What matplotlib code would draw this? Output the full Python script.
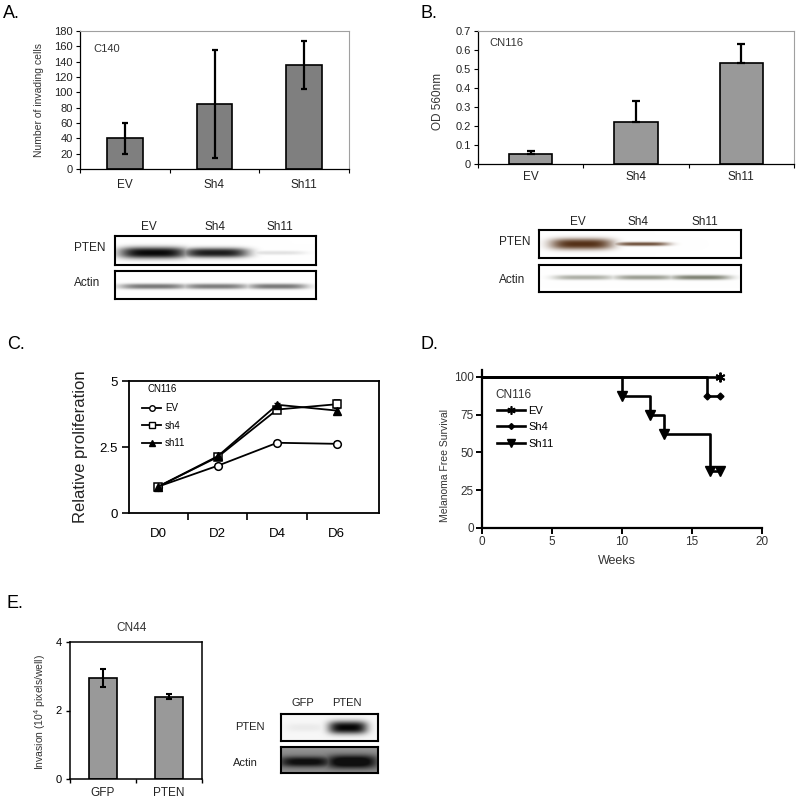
import numpy as np
import matplotlib
matplotlib.use('Agg')
import matplotlib.pyplot as plt
from matplotlib.lines import Line2D

plt.rcParams['font.family'] = ['Liberation Sans', 'DejaVu Sans']
plt.rcParams['mathtext.fontset'] = 'custom'
plt.rcParams['mathtext.rm'] = 'Liberation Sans'

# ---------------- data ----------------
a_groups = ['EV', 'Sh4', 'Sh11']
a_values = [40, 85, 136]
a_err = [20, 70, 31]

b_groups = ['EV', 'Sh4', 'Sh11']
b_values = [0.055, 0.22, 0.53]
b_err_up = [0.015, 0.11, 0.10]

c_days = ['D0', 'D2', 'D4', 'D6']
c_ev = [1.0, 1.79, 2.66, 2.62]
c_ev_err = [0.05, 0.06, 0.07, 0.06]
c_sh4 = [1.0, 2.12, 3.92, 4.12]
c_sh4_err = [0.06, 0.08, 0.10, 0.16]
c_sh11 = [1.0, 2.15, 4.10, 3.88]
c_sh11_err = [0.05, 0.07, 0.08, 0.08]

d_ev_weeks = [0, 17]
d_ev_surv = [100, 100]
d_sh4_weeks = [0, 16.1, 17]
d_sh4_surv = [100, 87.5, 87.5]
d_sh11_weeks = [0, 10, 12, 13, 16.3, 17]
d_sh11_surv = [100, 87.5, 75, 62.5, 37.5, 37.5]

e_groups = ['GFP', 'PTEN']
e_values = [2.95, 2.40]
e_err = [0.25, 0.07]

# blot band intensities (0..1) per lane
blotA_pten = [1.0, 0.92, 0.12]
blotA_actin = [0.62, 0.6, 0.62]
blotB_pten = [1.0, 0.85, 0.0]
blotB_actin = [0.45, 0.55, 0.70]
blotE_pten = [0.05, 1.0]
blotE_actin = [0.8, 0.95]

# ---------------- figure ----------------
W, H = 800, 801
fig = plt.figure(figsize=(8, 8.01), dpi=100)


def add_ax(x0, y0, x1, y1):
    return fig.add_axes([x0 / W, 1 - y1 / H, (x1 - x0) / W, (y1 - y0) / H])


def txt(x, y, s, **kw):
    kw.setdefault('ha', 'center')
    kw.setdefault('va', 'center')
    fig.text(x / W, 1 - y / H, s, **kw)


def excel_axes(ax, n, labels):
    ax.set_xlim(-0.5, n - 0.5)
    ax.set_xticks(np.arange(n + 1) - 0.5)
    ax.set_xticklabels([])
    ax.set_xticks(np.arange(n), minor=True)
    ax.set_xticklabels(labels, minor=True, fontsize=8.5, color='#222222')
    ax.tick_params(axis='x', which='minor', length=0, pad=7)
    ax.tick_params(axis='x', which='major', direction='out', length=3, width=0.8)
    ax.tick_params(axis='y', direction='out', length=3, width=0.8, labelsize=8, pad=2,
                   labelcolor='#222222')
    for s in ['top', 'right']:
        ax.spines[s].set_color('#a0a0a0')
        ax.spines[s].set_linewidth(0.8)
    for s in ['left', 'bottom']:
        ax.spines[s].set_color('black')
        ax.spines[s].set_linewidth(0.9)


def blot(box, lanes, intens, lane_w, band_y, band_h, color, bg, bg_dark=0.0):
    ax = add_ax(*box)
    ny, nx = 80, 300
    xx = np.linspace(0, 1, nx)[None, :]
    yy = np.linspace(0, 1, ny)[:, None]
    a = np.zeros((ny, nx))
    if np.isscalar(band_h):
        band_h = [band_h] * len(lanes)
    if np.isscalar(lane_w):
        lane_w = [lane_w] * len(lanes)
    for c, inten, bh, lw in zip(lanes, intens, band_h, lane_w):
        px = np.exp(-np.abs((xx - c) / (lw / 2)) ** 4)
        py = np.exp(-np.abs((yy - band_y) / bh) ** 2.5)
        a = np.maximum(a, inten * px * py)
    a = np.clip(a + bg_dark * np.exp(-((yy - band_y) / 0.45) ** 2) * np.ones_like(xx), 0, 1)
    color = np.array(color)
    bgc = np.array(bg)
    img = bgc[None, None, :] * (1 - a[..., None]) + color[None, None, :] * a[..., None]
    ax.imshow(np.clip(img, 0, 1), extent=[0, 1, 0, 1], aspect='auto', origin='upper',
              interpolation='bilinear')
    ax.set_xticks([])
    ax.set_yticks([])
    for s in ax.spines.values():
        s.set_linewidth(1.5)
        s.set_color('black')
    return ax


# ---------------- Panel A ----------------
axA = add_ax(80, 31, 349, 169)
xa = np.arange(len(a_groups))
axA.bar(xa, a_values, width=0.4, color='#7f7f7f', edgecolor='black', linewidth=1.2, zorder=2)
axA.errorbar(xa, a_values, yerr=a_err, fmt='none', ecolor='black', elinewidth=1.6,
             capsize=2.3, capthick=1.6, zorder=3)
excel_axes(axA, 3, a_groups)
axA.set_ylim(0, 180)
axA.set_yticks(np.arange(0, 181, 20))
txt(93, 49, 'C140', ha='left', fontsize=8, color='#333333')
txt(39, 100, 'Number of invading cells', rotation=90, fontsize=7.5, color='#333333')
txt(3, 13, 'A.', ha='left', fontsize=13)

# blot A
blot((115, 236, 316, 265), [0.19, 0.50, 0.80], blotA_pten, [0.34, 0.33, 0.30], 0.58,
     [0.2, 0.17, 0.07], (0.03, 0.03, 0.03), (1, 1, 1))
blot((115, 271, 316, 299), [0.19, 0.50, 0.81], blotA_actin, [0.34, 0.33, 0.30], 0.55, 0.1,
     (0.15, 0.15, 0.15), (1, 1, 1))
for lab, xx in zip(a_groups, [149, 215, 280]):
    txt(xx, 227, lab, fontsize=8.5, color='#222222')
txt(90, 248, 'PTEN', fontsize=8.5, color='#222222')
txt(87, 283, 'Actin', fontsize=8.5, color='#222222')

# ---------------- Panel B ----------------
axB = add_ax(478, 31, 794, 164)
xb = np.arange(len(b_groups))
axB.bar(xb, b_values, width=0.41, color='#999999', edgecolor='black', linewidth=1.2, zorder=2)
axB.errorbar(xb, b_values, yerr=[np.zeros(3), b_err_up], fmt='none', ecolor='black',
             elinewidth=1.6, capsize=2.8, capthick=1.6, zorder=3)
excel_axes(axB, 3, b_groups)
axB.set_ylim(0, 0.7)
axB.set_yticks(np.arange(0, 0.71, 0.1))
axB.set_yticklabels(['0', '0.1', '0.2', '0.3', '0.4', '0.5', '0.6', '0.7'])
axB.tick_params(axis='x', which='minor', pad=5)
txt(489, 43, 'CN116', ha='left', fontsize=8, color='#333333')
txt(438, 101, 'OD 560nm', rotation=90, fontsize=8.5, color='#333333')
txt(420, 13, 'B.', ha='left', fontsize=13)

blot((539, 230, 741, 258), [0.21, 0.51, 0.82], blotB_pten, [0.31, 0.27, 0.3], 0.5,
     [0.2, 0.07, 0.05], (0.33, 0.19, 0.09), (1, 1, 1))
blot((539, 265, 741, 292), [0.22, 0.52, 0.80], blotB_actin, 0.3, 0.46, 0.09,
     (0.28, 0.3, 0.22), (1, 1, 1))
for lab, xx in zip(b_groups, [578, 638, 705]):
    txt(xx, 222, lab, fontsize=8.5, color='#222222')
txt(515, 242, 'PTEN', fontsize=8.5, color='#222222')
txt(512, 280, 'Actin', fontsize=8.5, color='#222222')

# ---------------- Panel C ----------------
axC = add_ax(129, 381, 379, 513)
xc = np.arange(len(c_days))
axC.errorbar(xc, c_ev, yerr=c_ev_err, color='black', lw=1.3, marker='o', ms=5.5,
             mfc='white', mec='black', mew=1.1, capsize=2, elinewidth=1, label='EV', zorder=3)
axC.errorbar(xc, c_sh4, yerr=c_sh4_err, color='black', lw=1.3, marker='s', ms=5.5,
             mfc='white', mec='black', mew=1.1, capsize=2, elinewidth=1, label='sh4', zorder=3)
axC.errorbar(xc, c_sh11, yerr=c_sh11_err, color='black', lw=1.3, marker='^', ms=6,
             mfc='black', mec='black', capsize=2, elinewidth=1, label='sh11', zorder=3)
axC.set_xlim(-0.49, 3.71)
axC.set_ylim(0, 5)
axC.set_yticks([0, 2.5, 5])
axC.set_yticklabels(['0', '2.5', '5'])
axC.set_xticks([0.5, 1.5, 2.5])
axC.set_xticklabels([])
axC.set_xticks(xc, minor=True)
axC.set_xticklabels(c_days, minor=True, fontsize=9.5)
axC.tick_params(axis='x', which='minor', length=0, pad=11)
axC.tick_params(axis='x', which='major', direction='out', length=5, width=1.2)
axC.tick_params(axis='y', direction='out', length=5, width=1.2, labelsize=9.5, pad=3)
for s in axC.spines.values():
    s.set_linewidth(1.3)
hC = [Line2D([], [], color='black', lw=1.3, marker='o', ms=4, mfc='white', mec='black'),
      Line2D([], [], color='black', lw=1.3, marker='s', ms=4, mfc='white', mec='black'),
      Line2D([], [], color='black', lw=1.3, marker='^', ms=4.5, mfc='black')]
axC.legend(hC, ['EV', 'sh4', 'sh11'], loc='upper left', bbox_to_anchor=(0.052, 0.83),
           frameon=False, fontsize=7, handlelength=2.0, handletextpad=0.35,
           labelspacing=0.75, borderpad=0, borderaxespad=0)
txt(147, 389, 'CN116', ha='left', fontsize=7)
txt(80, 447, 'Relative proliferation', rotation=90, fontsize=12, color='#222222')
txt(7, 345, 'C.', ha='left', fontsize=13)

# ---------------- Panel D ----------------
axD = add_ax(482, 370, 762, 528)
axD.plot(d_ev_weeks, d_ev_surv, drawstyle='steps-post', color='black', lw=1.9)
axD.plot(d_ev_weeks[1:], d_ev_surv[1:], ls='none', marker=(6, 2, 0), ms=7, mew=1.4,
         color='black')
axD.plot(d_sh4_weeks, d_sh4_surv, drawstyle='steps-post', color='black', lw=1.9)
axD.plot(d_sh4_weeks[1:], d_sh4_surv[1:], ls='none', marker='D', ms=3.5, color='black')
axD.plot(d_sh11_weeks, d_sh11_surv, drawstyle='steps-post', color='black', lw=1.9)
axD.plot(d_sh11_weeks[1:], d_sh11_surv[1:], ls='none', marker='v', ms=6.5, color='black')
axD.set_xlim(0, 20)
axD.set_ylim(0, 104.6)
axD.set_xticks([0, 5, 10, 15, 20])
axD.set_yticks([0, 25, 50, 75, 100])
for s in ['top', 'right']:
    axD.spines[s].set_visible(False)
for s in ['left', 'bottom']:
    axD.spines[s].set_linewidth(1.6)
axD.tick_params(direction='out', length=4, width=1.4, labelsize=8.5, labelcolor='#333333',
                pad=2)
hD = [Line2D([], [], color='black', lw=1.9, marker=(6, 2, 0), ms=6, mew=1.2),
      Line2D([], [], color='black', lw=1.9, marker='D', ms=3),
      Line2D([], [], color='black', lw=1.9, marker='v', ms=5.5)]
axD.legend(hD, ['EV', 'Sh4', 'Sh11'], loc='upper left', bbox_to_anchor=(0.054, 0.775),
           frameon=False, fontsize=8, handlelength=2.5, handletextpad=0.3,
           labelspacing=0.6, borderpad=0, borderaxespad=0)
txt(495, 395, 'CN116', ha='left', fontsize=8.5, color='#333333')
txt(445, 466, 'Melanoma Free Survival', rotation=90, fontsize=7.5, color='#333333')
txt(617, 561, 'Weeks', fontsize=9, color='#333333')
txt(420, 345, 'D.', ha='left', fontsize=13)

# ---------------- Panel E ----------------
axE = add_ax(70, 642, 202, 779)
xe = np.arange(len(e_groups))
axE.bar(xe, e_values, width=0.41, color='#999999', edgecolor='black', linewidth=1.2, zorder=2)
axE.errorbar(xe, e_values, yerr=e_err, fmt='none', ecolor='black', elinewidth=1.5,
             capsize=2.5, capthick=1.5, zorder=3)
axE.set_xlim(-0.5, 1.5)
axE.set_ylim(0, 4)
axE.set_yticks([0, 2, 4])
axE.set_xticks([-0.5, 0.5, 1.5])
axE.set_xticklabels([])
axE.set_xticks(xe, minor=True)
axE.set_xticklabels(e_groups, minor=True, fontsize=8.5, color='#222222')
axE.tick_params(axis='x', which='minor', length=0, pad=6)
axE.tick_params(axis='x', which='major', direction='out', length=3, width=1)
axE.tick_params(axis='y', direction='out', length=3, width=1, labelsize=8, pad=3)
for s in axE.spines.values():
    s.set_linewidth(1.1)
txt(132, 628, 'CN44', fontsize=8.5, color='#333333')
txt(40, 712, r'Invasion (10$^4$ pixels/well)', rotation=90, fontsize=7.5, color='#333333')
txt(7, 603, 'E.', ha='left', fontsize=13)

blot((281, 714, 378, 741), [0.25, 0.69], blotE_pten, [0.4, 0.4], 0.5, [0.15, 0.24],
     (0.02, 0.02, 0.02), (0.97, 0.97, 0.97))
blot((281, 747, 378, 773), [0.25, 0.73], blotE_actin, [0.52, 0.5], 0.57, [0.2, 0.26],
     (0.06, 0.06, 0.06), (0.62, 0.62, 0.62), bg_dark=0.25)
txt(303, 703, 'GFP', fontsize=8, color='#222222')
txt(347, 703, 'PTEN', fontsize=8, color='#222222')
txt(250, 727, 'PTEN', fontsize=8, color='#222222')
txt(245, 763, 'Actin', fontsize=8, color='#222222')

fig.savefig('out.png', dpi=100)
